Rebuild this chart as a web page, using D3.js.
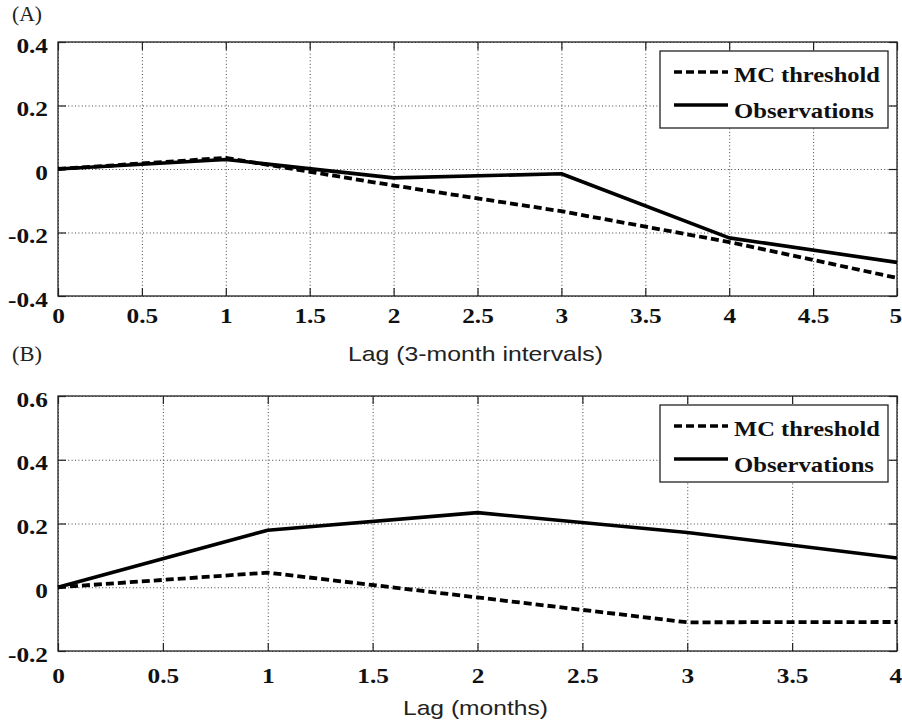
<!doctype html>
<html>
<head>
  <meta charset="utf8"/>
  <style>
    body { margin: 0; background: #fff; }
    .grid line { stroke: #444; stroke-width: 1; stroke-dasharray: 1,2.4; }
    .grid path, .ticks path, .labels path { display: none; }
    .ticks line { stroke: #222; stroke-width: 1.2; }
    .labels text {
      font-family: "Times New Roman", "Liberation Serif", Tinos, serif;
      font-weight: bold; font-size: 22px; fill: #111;
    }
    .frame { fill: none; stroke: #222; stroke-width: 1.3; }
    .series { fill: none; stroke: #000; stroke-linejoin: round; }
    .legend text {
      font-family: "Times New Roman", "Liberation Serif", Tinos, serif;
      font-weight: bold; font-size: 22px; fill: #111;
    }
    .panel-tag { font-family: "Times New Roman", "Liberation Serif", serif; font-size: 20px; fill: #222; }
    .xtitle { font-family: Arial, "Liberation Sans", sans-serif; font-size: 21px; fill: #222; }
  </style>
</head>
<body>
  <svg width="902" height="724"></svg>
  <script src="https://d3js.org/d3.v7.min.js"></script>
  <script>

    // panel A: lag in 3-month intervals
    var lagA = [0, 1, 2, 3, 4, 5];
    var mcA  = [0, 0.035, -0.052, -0.133, -0.23, -0.343];
    var obsA = [0, 0.03, -0.028, -0.015, -0.217, -0.294];
    var xTicksA = [0, 0.5, 1, 1.5, 2, 2.5, 3, 3.5, 4, 4.5, 5];
    var yTicksA = [-0.4, -0.2, 0, 0.2, 0.4];

    // panel B: lag in months
    var lagB = [0, 1, 2, 3, 4];
    var mcB  = [0, 0.046, -0.032, -0.11, -0.109];
    var obsB = [0, 0.179, 0.234, 0.172, 0.092];
    var xTicksB = [0, 0.5, 1, 1.5, 2, 2.5, 3, 3.5, 4];
    var yTicksB = [-0.2, 0, 0.2, 0.4, 0.6];

    var legendNames = ['MC threshold', 'Observations'];

    var svg = d3.select('svg');
    var left = 58, right = 897;
    var fmt = function(d) { return String(d); };

    function drawPanel(p) {
      var g = svg.append('g');
      var top = p.top, bottom = p.bottom, h = bottom - top, w = right - left;

      var x = d3.scaleLinear().domain(d3.extent(p.xTicks)).range([left, right]);
      var y = d3.scaleLinear().domain(d3.extent(p.yTicks)).range([bottom, top]);

      // dotted grid
      g.append('g').attr('class', 'grid')
        .attr('transform', 'translate(0,' + bottom + ')')
        .call(d3.axisBottom(x).tickValues(p.xTicks).tickSize(-h).tickFormat(''));
      g.append('g').attr('class', 'grid')
        .attr('transform', 'translate(' + left + ',0)')
        .call(d3.axisLeft(y).tickValues(p.yTicks).tickSize(-w).tickFormat(''));

      // inward ticks on all four sides
      var tk = 8;
      g.append('g').attr('class', 'ticks')
        .attr('transform', 'translate(0,' + bottom + ')')
        .call(d3.axisBottom(x).tickValues(p.xTicks).tickSize(-tk).tickFormat(''));
      g.append('g').attr('class', 'ticks')
        .attr('transform', 'translate(0,' + top + ')')
        .call(d3.axisTop(x).tickValues(p.xTicks).tickSize(-tk).tickFormat(''));
      g.append('g').attr('class', 'ticks')
        .attr('transform', 'translate(' + left + ',0)')
        .call(d3.axisLeft(y).tickValues(p.yTicks).tickSize(-tk).tickFormat(''));
      g.append('g').attr('class', 'ticks')
        .attr('transform', 'translate(' + right + ',0)')
        .call(d3.axisRight(y).tickValues(p.yTicks).tickSize(-tk).tickFormat(''));

      g.append('rect').attr('class', 'frame')
        .attr('x', left).attr('y', top).attr('width', w).attr('height', h);

      // tick labels (the source image is stretched a bit horizontally)
      var xl = g.append('g').attr('class', 'labels')
        .attr('transform', 'translate(0,' + bottom + ')')
        .call(d3.axisBottom(x).tickValues(p.xTicks).tickSize(0).tickFormat(fmt));
      xl.selectAll('text').attr('y', p.xLabelGap).attr('dy', 0)
        .attr('transform', 'scale(1.15,1)');
      // last label sits on the right edge; keep it inside the picture
      xl.selectAll('text').filter(function(d) { return d === p.xTicks[p.xTicks.length - 1]; })
        .attr('text-anchor', 'end').attr('x', 4);

      var yl = g.append('g').attr('class', 'labels')
        .attr('transform', 'translate(' + left + ',0)')
        .call(d3.axisLeft(y).tickValues(p.yTicks).tickSize(0).tickFormat(fmt));
      yl.selectAll('text').attr('x', -10 / 1.15).attr('dy', 0).attr('y', 10)
        .attr('transform', 'scale(1.15,1)');

      // series
      var line = d3.line()
        .x(function(d) { return x(d[0]); })
        .y(function(d) { return y(d[1]); });

      g.append('path').attr('class', 'series')
        .attr('d', line(d3.zip(p.lag, p.mc)))
        .attr('stroke-width', 3.8).attr('stroke-dasharray', '8,4');
      g.append('path').attr('class', 'series')
        .attr('d', line(d3.zip(p.lag, p.obs)))
        .attr('stroke-width', 3.6);

      // legend
      var lg = g.append('g').attr('class', 'legend')
        .attr('transform', 'translate(660,' + (top + 9) + ')');
      lg.append('rect').attr('width', 228).attr('height', 77)
        .attr('fill', '#fff').attr('stroke', '#222').attr('stroke-width', 1.3);
      lg.selectAll('line.key').data(legendNames).enter().append('line')
        .attr('class', 'key')
        .attr('x1', 14).attr('x2', 68)
        .attr('y1', function(d, i) { return 21 + i * 33; })
        .attr('y2', function(d, i) { return 21 + i * 33; })
        .attr('stroke', '#000').attr('stroke-width', 3.6)
        .attr('stroke-dasharray', function(d, i) { return i === 0 ? '8,4' : null; });
      lg.selectAll('text').data(legendNames).enter().append('text')
        .attr('x', 74)
        .attr('y', function(d, i) { return 31 + i * 35.5; })
        .attr('textLength', function(d, i) { return i === 0 ? 146 : 140; })
        .attr('lengthAdjust', 'spacingAndGlyphs')
        .text(function(d) { return d; });

      // panel tag and x title
      svg.append('text').attr('class', 'panel-tag')
        .attr('x', 12).attr('y', p.tagY)
        .attr('textLength', 30).attr('lengthAdjust', 'spacingAndGlyphs')
        .text(p.tag);
      svg.append('text').attr('class', 'xtitle')
        .attr('x', 475.5).attr('y', p.titleY)
        .attr('text-anchor', 'middle')
        .attr('textLength', p.titleLen).attr('lengthAdjust', 'spacingAndGlyphs')
        .text(p.title);
    }

    drawPanel({
      top: 42, bottom: 296, lag: lagA, mc: mcA, obs: obsA,
      xTicks: xTicksA, yTicks: yTicksA, xLabelGap: 27,
      tag: '(A)', tagY: 21, title: 'Lag (3-month intervals)', titleY: 361, titleLen: 255
    });
    drawPanel({
      top: 396, bottom: 651, lag: lagB, mc: mcB, obs: obsB,
      xTicks: xTicksB, yTicks: yTicksB, xLabelGap: 32,
      tag: '(B)', tagY: 361, title: 'Lag (months)', titleY: 715, titleLen: 145
    });

  </script>
</body>
</html>
